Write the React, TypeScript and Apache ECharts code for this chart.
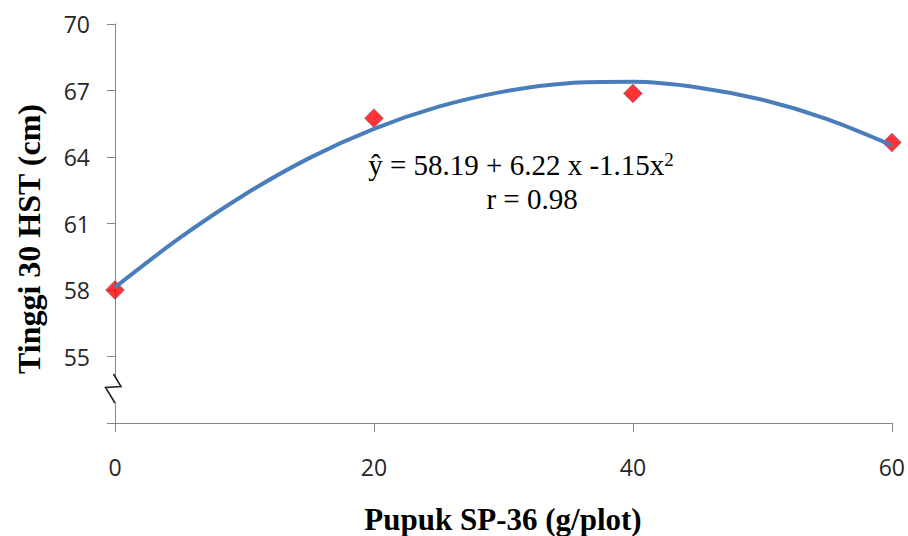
import React, { useEffect, useRef } from "react";
import * as echarts from "echarts";

// Observed data (Pupuk SP-36 g/plot vs Tinggi 30 HST cm)
const doseX: number[] = [0, 20, 40, 60];
const heightY: number[] = [58.0, 65.75, 66.87, 64.65];

// Trend curve values
const curveX: number[] = [0, 5, 10, 15, 20, 25, 30, 35, 40, 45, 50, 55, 60];
const curveY: number[] = [58.12, 60.35, 62.3, 63.95, 65.27, 66.27, 66.95, 67.33, 67.39, 67.14, 66.58, 65.71, 64.53];

const xTicks: number[] = [0, 20, 40, 60];
const yMin = 52;
const yMax = 70;
const yStep = 3;

const xTitle = "Pupuk SP-36 (g/plot)";
const yTitle = "Tinggi 30 HST (cm)";
const eqMain = "ŷ = 58.19 + 6.22 x -1.15x";
const eqSup = "2";
const eqLine2 = "r = 0.98";

export default function App() {
  const ref = useRef<HTMLDivElement>(null);

  useEffect(() => {
    document.body.style.margin = "0";
    if (!ref.current) return;
    const chart = echarts.init(ref.current, null, { renderer: "svg" });
    const axisColor = "#868686";
    const labelFont = "Open Sans";
    const option: any = {
      animation: false,
      backgroundColor: "#ffffff",
      grid: { left: 115, right: 16, top: 24, bottom: 113, containLabel: false },
      xAxis: {
        type: "value",
        min: xTicks[0],
        max: xTicks[xTicks.length - 1],
        interval: 20,
        axisLine: { show: true, lineStyle: { color: axisColor, width: 1 } },
        axisTick: { show: true, inside: false, length: 9, lineStyle: { color: axisColor } },
        splitLine: { show: false },
        axisLabel: { color: "#262626", fontFamily: labelFont, fontSize: 23, margin: 32 },
      },
      yAxis: {
        type: "value",
        min: yMin,
        max: yMax,
        interval: yStep,
        axisLine: { show: true, lineStyle: { color: axisColor, width: 1 } },
        axisTick: { show: true, inside: false, length: 8, lineStyle: { color: axisColor } },
        splitLine: { show: false },
        axisLabel: {
          color: "#262626",
          fontFamily: labelFont,
          fontSize: 23,
          margin: 25,
          formatter: (v: number) => (v === yMin ? "" : String(v)),
        },
      },
      series: [
        {
          type: "scatter",
          data: doseX.map((x, i) => [x, heightY[i]]),
          symbol: "diamond",
          symbolSize: 19,
          itemStyle: { color: "#ff0000", borderColor: "#6a7fb0", borderWidth: 0.8 },
          z: 2,
        },
        {
          type: "line",
          data: curveX.map((x, i) => [x, curveY[i]]),
          smooth: 0.3,
          showSymbol: false,
          lineStyle: { color: "#4a7ebb", width: 4 },
          z: 3,
        },
      ],
      graphic: [
        {
          type: "rect",
          shape: { x: 111, y: 376, width: 7, height: 26 },
          style: { fill: "#ffffff" },
          z: 100,
        },
        {
          type: "polyline",
          shape: { points: [[113.5, 374], [121, 386.5], [105.5, 387.5], [115, 403]] },
          style: { stroke: "#222222", lineWidth: 1.6, fill: "none" },
          z: 101,
        },
        {
          type: "text",
          x: 521,
          y: 165,
          style: {
            text: "{m|" + eqMain + "}{s|" + eqSup + "}",
            align: "center",
            verticalAlign: "middle",
            rich: {
              m: { font: "29px 'Liberation Serif'", fill: "#000000", color: "#000000" },
              s: {
                font: "19px 'Liberation Serif'",
                fill: "#000000",
                color: "#000000",
                verticalAlign: "top",
                padding: [0, 0, 12, 0],
              },
            },
          },
          z: 100,
        },
        {
          type: "text",
          x: 532,
          y: 199,
          style: {
            text: eqLine2,
            font: "29px 'Liberation Serif'",
            fill: "#000000",
            align: "center",
            verticalAlign: "middle",
          },
          z: 100,
        },
        {
          type: "text",
          x: 503,
          y: 519,
          style: {
            text: xTitle,
            font: "bold 31px 'Liberation Serif'",
            fill: "#000000",
            align: "center",
            verticalAlign: "middle",
          },
          z: 100,
        },
        {
          type: "text",
          x: 29,
          y: 239,
          rotation: Math.PI / 2,
          style: {
            text: yTitle,
            font: "bold 32px 'Liberation Serif'",
            fill: "#000000",
            align: "center",
            verticalAlign: "middle",
          },
          z: 100,
        },
      ],
    };
    chart.setOption(option);
    return () => chart.dispose();
  }, []);

  return <div ref={ref} style={{ width: 908, height: 536 }} />;
}
